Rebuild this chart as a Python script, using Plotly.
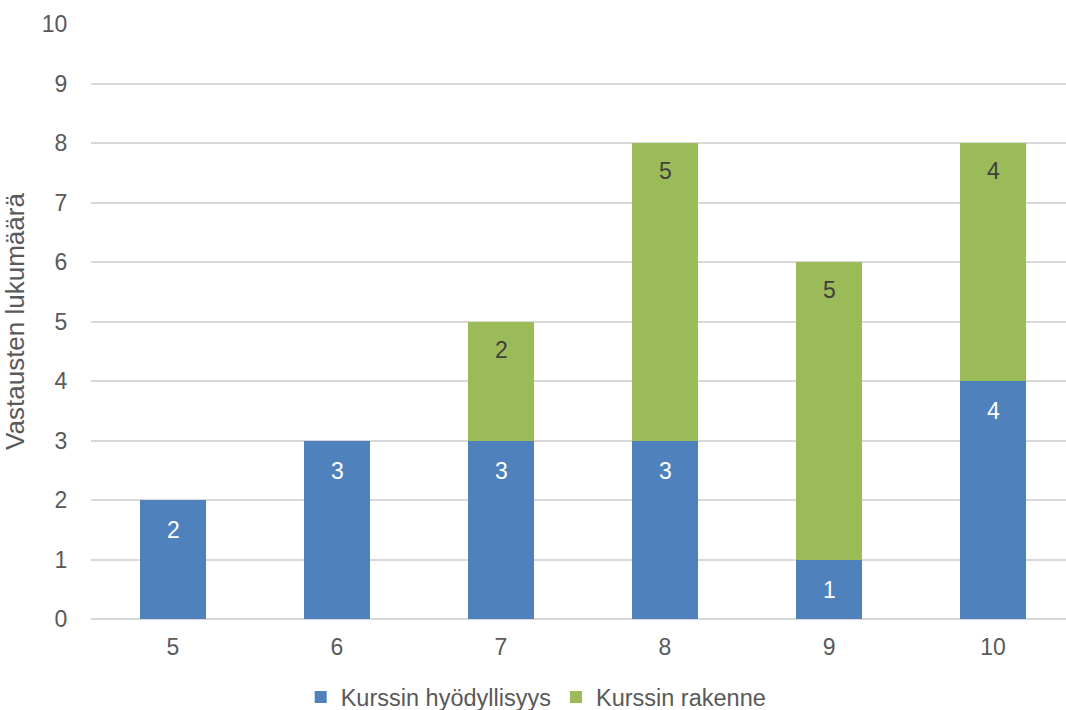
import plotly.graph_objects as go

# Ratings given (5-10) and number of answers per aspect
categories = ["5", "6", "7", "8", "9", "10"]
hyodyllisyys = [2, 3, 3, 3, 1, 4]
rakenne = [0, 0, 2, 5, 5, 4]

series_names = ["Kurssin hyödyllisyys", "Kurssin rakenne"]
y_ticks = list(range(0, 11))

BLUE = "#4f81bd"
GREEN = "#9bbb59"
TEXT = "#595959"
GRID = "#d9d9d9"
FONT = "Liberation Sans, Arial, sans-serif"

xpos = list(range(len(categories)))

fig = go.Figure()
fig.add_trace(go.Bar(x=xpos, y=hyodyllisyys, name=series_names[0],
                     marker=dict(color=BLUE, line=dict(width=0)), width=0.40))
fig.add_trace(go.Bar(x=xpos, y=rakenne, name=series_names[1],
                     marker=dict(color=GREEN, line=dict(width=0)), width=0.40))

# Value labels just inside the top of each segment
annotations = []
for i in xpos:
    if hyodyllisyys[i]:
        annotations.append(dict(x=i, y=hyodyllisyys[i], xref="x", yref="y",
                                text=str(hyodyllisyys[i]), showarrow=False,
                                yshift=-30, font=dict(color="white", size=23, family=FONT)))
    if rakenne[i]:
        top = hyodyllisyys[i] + rakenne[i]
        annotations.append(dict(x=i, y=top, xref="x", yref="y",
                                text=str(rakenne[i]), showarrow=False,
                                yshift=-28, font=dict(color="#404040", size=23, family=FONT)))

fig.update_layout(
    width=1066, height=710,
    barmode="stack",
    paper_bgcolor="white", plot_bgcolor="white",
    margin=dict(l=91, r=0, t=24, b=91),
    font=dict(family=FONT, color=TEXT, size=23),
    annotations=annotations,
    showlegend=True,
    legend=dict(orientation="h", xref="container", yref="container",
                x=0.503, xanchor="center", y=0.018, yanchor="middle",
                font=dict(size=23.5, color=TEXT), itemwidth=30,
                traceorder="normal"),
    xaxis=dict(tickvals=xpos, ticktext=categories, range=[-0.5, 5.445],
               showgrid=False, zeroline=False, showline=False,
               ticks="outside", ticklen=7, tickcolor="rgba(0,0,0,0)",
               tickfont=dict(size=23, color=TEXT)),
    yaxis=dict(range=[0, 10], tickvals=y_ticks, showgrid=True,
               gridcolor=GRID, gridwidth=2, zeroline=True,
               zerolinecolor=GRID, zerolinewidth=2, showline=False,
               ticks="outside", ticklen=18, tickcolor="rgba(0,0,0,0)",
               tickfont=dict(size=23, color=TEXT),
               title=dict(text="Vastausten lukumäärä", standoff=9,
                          font=dict(size=26, color=TEXT))),
)

fig.write_html("out.html")
